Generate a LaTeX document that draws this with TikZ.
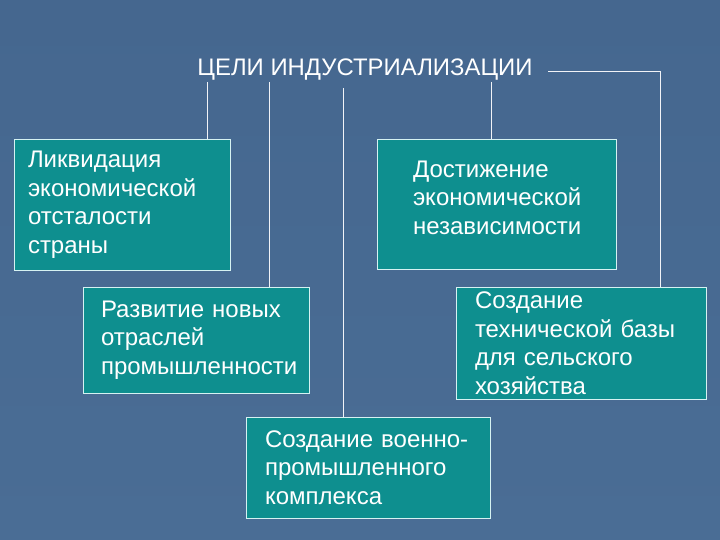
\documentclass[tikz,border=0pt]{standalone}
\usepackage{fontspec}
\setmainfont{Liberation Sans}
\usetikzlibrary{positioning,calc,backgrounds}
\definecolor{slate}{HTML}{4A6D95}
\definecolor{slatedark}{HTML}{45678F}
\definecolor{goalteal}{HTML}{0E8F8F}
\definecolor{goaledge}{HTML}{D6F2F2}
\tikzset{
  % цели
  goal/.style={rectangle,draw=goaledge,fill=goalteal,line width=0.9pt,
               text=white,align=left,inner ysep=0pt,
               font=\fontsize{24}{28.5}\selectfont},
  ttl/.style={text=white,inner sep=0pt,font=\fontsize{23.9}{27}\selectfont},
  link/.style={draw=white!92!slate,line width=0.9pt},
}

\begin{document}
\begin{tikzpicture}[x=1pt,y=-1pt]
  \fill[top color=slatedark,bottom color=slate] (0,0) rectangle (720,540);
  \useasboundingbox (0,0) rectangle (720,540);
  \node[ttl,anchor=base] (title) at (365,76) {ЦЕЛИ ИНДУСТРИАЛИЗАЦИИ};
  \node[goal,minimum width=216,minimum height=131,inner xsep=14,text width=188]
    (lik) at (122,204.5) {Ликвидация\\экономической\\отсталости\\страны};
  \node[goal,minimum width=239,minimum height=130,inner xsep=36,text width=167,
    text depth=70]
    (dost) at (496.5,204) {Достижение\\экономической\\независимости};
  \node[goal,minimum width=226,minimum height=106,inner xsep=18,text width=190]
    (razv) at (196,340) {Развитие~новых\\отраслей\\промышленности};
  \node[goal,minimum width=250,minimum height=112,inner xsep=19,text width=212]
    (tech) at (581,343) {Создание\\технической~базы\\для~сельского\\хозяйства};
  \node[goal,minimum width=244,minimum height=101,inner xsep=19,text width=206]
    (vpk) at (368,467.5) {Создание~военно-\\промышленного\\комплекса};
  \coordinate (ta) at (207,82);
  \coordinate (tb) at (269,82);
  \coordinate (tc) at (343,88);
  \coordinate (td) at (491,82);
  \coordinate (te) at (548,71);
  \coordinate (tf) at (660,71);
  \draw[link] (ta) -- (ta |- lik.north);
  \draw[link] (tb) -- (tb |- razv.north);
  \draw[link] (tc) -- (tc |- vpk.north);
  \draw[link] (td) -- (td |- dost.north);
  \draw[link] (te) -- (tf) -- (tf |- tech.north);
\end{tikzpicture}
\end{document}
